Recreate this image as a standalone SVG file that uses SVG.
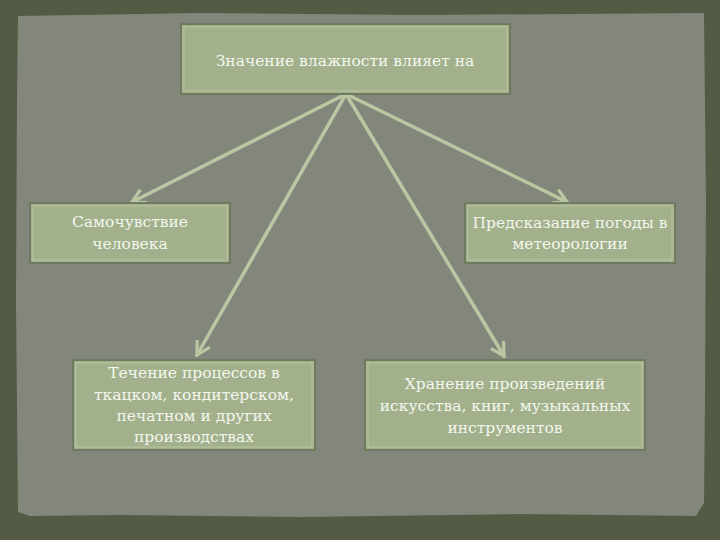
<svg xmlns="http://www.w3.org/2000/svg" width="720" height="540" viewBox="0 0 720 540">
<style>
.box{fill:#a2b18c;stroke:#6f7a5e;stroke-width:2}
.hl{fill:none;stroke:#b8c6a2;stroke-width:1}
.t{font-family:"DejaVu Serif","Liberation Serif",serif;font-size:15.5px;fill:#f4f6ee;text-anchor:middle}
.c{stroke:#b9c8a2;stroke-width:3.5;fill:none;stroke-linecap:round}
</style>
<defs>
<marker id="ah" viewBox="0 0 12 12" refX="10" refY="6" markerWidth="5" markerHeight="5" orient="auto" markerUnits="strokeWidth">
<path d="M1,1 L10,6 L1,11" fill="none" stroke="#b9c8a2" stroke-width="2.2"/>
</marker>
</defs>
<rect x="0" y="0" width="720" height="540" fill="#535b45"/>
<path d="M18,16 L200,13 L420,15 L704,13 L706,200 L705,400 L704,503 L696,516 L520,514 L300,517 L120,515 L30,516 L18,512 L16,300 L17,100 Z" fill="#83877b"/>
<g id="connectors">
<line class="c" x1="346" y1="94" x2="132" y2="202" marker-end="url(#ah)"/>
<line class="c" x1="346" y1="94" x2="197" y2="355" marker-end="url(#ah)"/>
<line class="c" x1="346" y1="94" x2="567" y2="202" marker-end="url(#ah)"/>
<line class="c" x1="346" y1="94" x2="504" y2="356" marker-end="url(#ah)"/>
</g>
<g id="n-top">
<rect class="box" x="181" y="24" width="329" height="70"/>
<rect class="hl" x="184" y="27" width="323" height="64"/>
<text class="t" x="345" y="66">Значение влажности влияет на</text>
</g>
<g id="n-left1">
<rect class="box" x="30" y="203" width="200" height="60"/>
<rect class="hl" x="33" y="206" width="194" height="54"/>
<text class="t" x="130" y="227">Самочувствие</text>
<text class="t" x="130" y="249">человека</text>
</g>
<g id="n-right1">
<rect class="box" x="465" y="203" width="210" height="60"/>
<rect class="hl" x="468" y="206" width="204" height="54"/>
<text class="t" x="570" y="228">Предсказание погоды в</text>
<text class="t" x="570" y="249">метеорологии</text>
</g>
<g id="n-left2">
<rect class="box" x="73" y="360" width="242" height="90"/>
<rect class="hl" x="76" y="363" width="236" height="84"/>
<text class="t" x="194" y="378">Течение процессов в</text>
<text class="t" x="194" y="400">ткацком, кондитерском,</text>
<text class="t" x="194" y="421">печатном и других</text>
<text class="t" x="194" y="442">производствах</text>
</g>
<g id="n-right2">
<rect class="box" x="365" y="360" width="280" height="90"/>
<rect class="hl" x="368" y="363" width="274" height="84"/>
<text class="t" x="505" y="389">Хранение произведений</text>
<text class="t" x="505" y="411">искусства, книг, музыкальных</text>
<text class="t" x="505" y="433">инструментов</text>
</g>
</svg>
